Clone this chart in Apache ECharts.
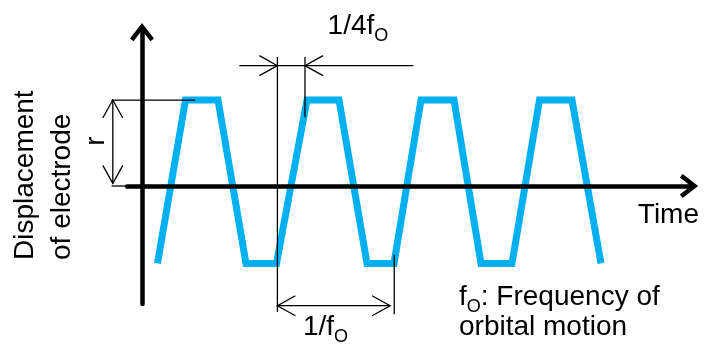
<!DOCTYPE html>
<html>
<head>
<meta charset="utf-8">
<script src="https://cdn.jsdelivr.net/npm/echarts@6/dist/echarts.min.js"></script>
<style>
  html, body { margin: 0; padding: 0; background: #fff; }
  #chart { width: 710px; height: 344px; }
</style>
</head>
<body>
<div id="chart"></div>
<script>
// ---- Data (time in quarter periods, displacement in units of r) ----
const waveTime = [0.525, 1.475, 2.576, 3.525, 4.559, 5.593, 6.678, 7.627, 8.542, 9.458, 10.576, 11.492, 12.542, 13.475, 14.576, 15.559];
const waveDisp = [-0.9, 1, 1, -0.9, -0.9, 1, 1, -0.9, -0.9, 1, 1, -0.9, -0.9, 1, 1, -0.9];

// dimension lines: [t1, d1, t2, d2]
const dimLines = [
  [-0.99, 0.03, -0.99, 1],
  [-1.03, 1, 1.80, 1],
  [-1.03, 0, -0.52, 0],
  [4.59, 1.50, 4.59, -1.465],
  [5.525, 1.50, 5.525, 0.80],
  [3.30, 1.40, 9.20, 1.40],
  [4.59, -1.392, 8.41, -1.392],
  [8.55, -0.80, 8.55, -1.49]
];
// arrow heads: [t, d, direction in degrees]
const dimArrows = [
  [-0.99, 1, 90],
  [-0.99, 0.03, -90],
  [4.59, 1.40, 0],
  [5.525, 1.40, 180],
  [4.59, -1.392, 180],
  [8.41, -1.392, 0]
];
// dimension labels: anchor = centre of text at its baseline
const dimLabelMain = ['r', '1/4f', '1/f'];
const dimLabelSub = ['', 'O', 'O'];
const dimLabelT = [-1.22, 7.32, 6.22];
const dimLabelD = [0.523, 1.745, -1.756];
const dimLabelRotate = [90, 0, 0];

const axisTitleY = 'Displacement\nof electrode';
const axisTitleX = 'Time';
const noteLine1 = ['f', 'O', ': Frequency of'];
const noteLine2 = 'orbital motion';

// ---- Styles ----
const FONT = '"Liberation Sans", Arial, Helvetica, sans-serif';
const FS = 28, SUB_FS = 18;
const MID = 9.7; // distance from 'middle' line to baseline at 28px
const BLUE = '#00B0F0';
const chevron = 'path://M12,0 L24,15.5 L20.44,18.25 L12,7.35 L3.56,18.25 L0,15.5 Z';
const richStyles = {
  m: { fontSize: FS, fontFamily: FONT, fill: '#000', color: '#000' },
  s: { fontSize: SUB_FS, fontFamily: FONT, fill: '#000', color: '#000', padding: [19, 0, 0, 0] }
};

function richText(main, sub) {
  return sub ? '{m|' + main + '}{s|' + sub + '}' : '{m|' + main + '}';
}

const chart = echarts.init(document.getElementById('chart'), null, { renderer: 'canvas' });

const option = {
  animation: false,
  backgroundColor: '#fff',
  grid: { left: 127, right: 18, top: 29, bottom: 40, containLabel: false, outerBoundsMode: 'none' },
  xAxis: {
    type: 'value',
    min: -0.5085,
    max: 18.644,
    z: 3,
    name: axisTitleX,
    nameLocation: 'end',
    nameGap: 7,
    nameTextStyle: {
      fontSize: FS, fontFamily: FONT, color: '#000',
      align: 'right', verticalAlign: 'top', lineHeight: 28, padding: [15, 0, 0, 0]
    },
    axisLine: {
      show: true, onZero: true,
      symbol: ['none', chevron], symbolSize: [24, 18.25], symbolOffset: [0, -3],
      lineStyle: { color: '#000', width: 4.5 }
    },
    axisTick: { show: false },
    axisLabel: { show: false },
    splitLine: { show: false }
  },
  yAxis: {
    type: 'value',
    min: -1.372,
    max: 1.826,
    z: 3,
    axisLine: {
      show: true, onZero: true,
      symbol: ['none', chevron], symbolSize: [24, 18.25], symbolOffset: [0, -3],
      lineStyle: { color: '#000', width: 4.5 }
    },
    axisTick: { show: false },
    axisLabel: { show: false },
    splitLine: { show: false }
  },
  graphic: [
    {
      type: 'text', x: 6.8, y: 260, rotation: Math.PI / 2, silent: true,
      style: { text: axisTitleY, font: FS + 'px ' + FONT, fill: '#000',
               align: 'left', textAlign: 'left', verticalAlign: 'top', textVerticalAlign: 'top', lineHeight: 37 }
    },
    {
      type: 'text', x: 459, y: 307 - MID, silent: true,
      style: { text: '{m|' + noteLine1[0] + '}{s|' + noteLine1[1] + '}{m|' + noteLine1[2] + '}', rich: richStyles,
               align: 'left', textAlign: 'left', verticalAlign: 'middle', textVerticalAlign: 'middle' }
    },
    {
      type: 'text', x: 459, y: 337 - MID, silent: true,
      style: { text: noteLine2, font: FS + 'px ' + FONT, fill: '#000',
               align: 'left', textAlign: 'left', verticalAlign: 'middle', textVerticalAlign: 'middle' }
    }
  ],
  series: [
    {
      type: 'line',
      data: waveTime.map((t, i) => [t, waveDisp[i]]),
      showSymbol: false,
      symbol: 'none',
      silent: true,
      z: 2,
      lineStyle: { color: BLUE, width: 7, join: 'miter', cap: 'butt' }
    },
    {
      type: 'custom',
      silent: true,
      clip: false,
      z: 5,
      data: dimLines,
      encode: { x: [0, 2], y: [1, 3] },
      renderItem: function (params, api) {
        const p1 = api.coord([api.value(0), api.value(1)]);
        const p2 = api.coord([api.value(2), api.value(3)]);
        return {
          type: 'line',
          shape: { x1: p1[0], y1: p1[1], x2: p2[0], y2: p2[1] },
          style: { stroke: '#000', lineWidth: 1.3, fill: 'none' }
        };
      }
    },
    {
      type: 'custom',
      silent: true,
      clip: false,
      z: 5,
      data: dimArrows,
      encode: { x: 0, y: 1 },
      renderItem: function (params, api) {
        const p = api.coord([api.value(0), api.value(1)]);
        const a = api.value(2) * Math.PI / 180;
        const dx = Math.cos(a), dy = -Math.sin(a);
        const L = 18, W = 10;
        const bx = p[0] - dx * L, by = p[1] - dy * L;
        const nx = -dy, ny = dx;
        return {
          type: 'polyline',
          shape: { points: [[bx + nx * W, by + ny * W], [p[0], p[1]], [bx - nx * W, by - ny * W]] },
          style: { stroke: '#000', lineWidth: 1.3, fill: 'none' }
        };
      }
    },
    {
      type: 'custom',
      silent: true,
      clip: false,
      z: 5,
      data: dimLabelT.map((t, i) => [t, dimLabelD[i]]),
      encode: { x: 0, y: 1 },
      renderItem: function (params, api) {
        const i = params.dataIndex;
        const p = api.coord([api.value(0), api.value(1)]);
        return {
          type: 'text',
          x: p[0], y: p[1],
          rotation: dimLabelRotate[i] * Math.PI / 180,
          style: {
            x: 0, y: -MID,
            text: richText(dimLabelMain[i], dimLabelSub[i]),
            rich: richStyles,
            align: 'center', textAlign: 'center',
            verticalAlign: 'middle', textVerticalAlign: 'middle'
          }
        };
      }
    }
  ]
};

chart.setOption(option);
</script>
</body>
</html>
